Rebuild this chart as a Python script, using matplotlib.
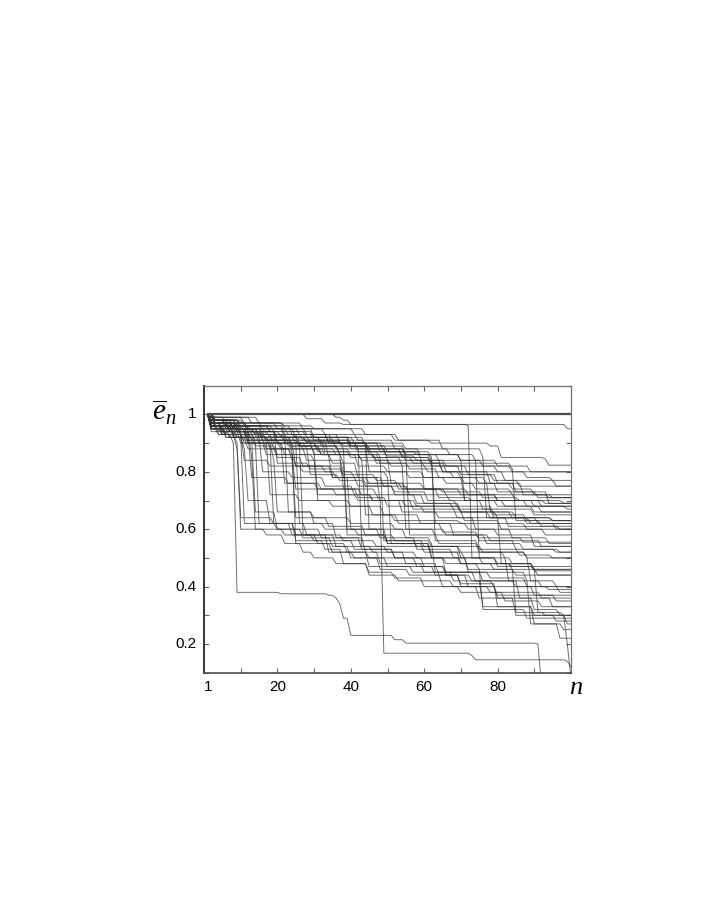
import numpy as np
import matplotlib
matplotlib.use("Agg")
import matplotlib.pyplot as plt

# n = 1..100, each run starts at 1.0; (n, value) = value the run steps down to at n
n = np.arange(1, 101)

flat_runs = [
    [],
    [],
    [(36, 0.99), (38, 0.98), (40, 0.965), (99, 0.95)],
    [(28, 0.985), (33, 0.97), (38, 0.965), (72, 0.96), (73, 0.50), (76, 0.48), (84, 0.47)],
]

upper_runs = [
    [(3, 0.98), (10, 0.97), (22, 0.96), (30, 0.95), (44, 0.93), (52, 0.91), (62, 0.90), (78, 0.89), (81, 0.85), (93, 0.845), (94, 0.823)],
    [(2, 0.97), (8, 0.95), (15, 0.93), (25, 0.92), (35, 0.90), (45, 0.88), (55, 0.86), (64, 0.84), (76, 0.82), (84, 0.80)],
    [(2, 0.98), (6, 0.96), (12, 0.94), (20, 0.92), (28, 0.905), (38, 0.89), (42, 0.87), (50, 0.855), (58, 0.84), (66, 0.82), (80, 0.80), (88, 0.78), (95, 0.77)],
    [(2, 0.96), (9, 0.94), (16, 0.92), (26, 0.90), (31, 0.88), (40, 0.86), (47, 0.84), (60, 0.82), (70, 0.79), (79, 0.77), (86, 0.75)],
    [(2, 0.97), (7, 0.95), (13, 0.93), (19, 0.90), (27, 0.88), (36, 0.86), (43, 0.84), (51, 0.82), (61, 0.80), (68, 0.78), (75, 0.76), (84, 0.74), (90, 0.72)],
    [(3, 0.98), (10, 0.95), (14, 0.93), (22, 0.91), (33, 0.87), (40, 0.85), (57, 0.83), (66, 0.80), (78, 0.76), (85, 0.73), (91, 0.71)],
    [(2, 0.95), (6, 0.93), (17, 0.91), (26, 0.89), (37, 0.86), (47, 0.83), (56, 0.81), (64, 0.78), (71, 0.76), (80, 0.73), (94, 0.69)],
    [(2, 0.99), (13, 0.97), (22, 0.95), (33, 0.93), (42, 0.91), (52, 0.88), (59, 0.86), (70, 0.84), (80, 0.82), (89, 0.80)],
    [(2, 0.95), (5, 0.93), (11, 0.90), (21, 0.88), (32, 0.86), (48, 0.83), (65, 0.80), (82, 0.77), (96, 0.75)],
    [(2, 0.96), (9, 0.94), (18, 0.92), (29, 0.90), (42, 0.88), (54, 0.85), (62, 0.82), (72, 0.79), (80, 0.76), (87, 0.72), (95, 0.71)],
]

step_runs = [
    [(2, 0.97), (5, 0.95), (10, 0.93), (11, 0.84), (18, 0.82), (27, 0.80), (36, 0.78), (45, 0.76), (55, 0.74), (66, 0.72), (80, 0.70), (92, 0.68)],
    [(2, 0.96), (7, 0.94), (15, 0.92), (16, 0.80), (24, 0.78), (33, 0.75), (41, 0.72), (46, 0.70), (57, 0.67), (69, 0.64), (83, 0.61), (97, 0.60)],
    [(3, 0.98), (9, 0.96), (19, 0.94), (20, 0.83), (29, 0.81), (38, 0.79), (47, 0.77), (53, 0.74), (64, 0.71), (73, 0.70), (88, 0.68)],
    [(2, 0.95), (4, 0.93), (12, 0.91), (21, 0.89), (22, 0.76), (32, 0.74), (42, 0.71), (50, 0.68), (60, 0.66), (71, 0.63), (81, 0.60), (93, 0.58)],
    [(2, 0.97), (8, 0.95), (14, 0.93), (23, 0.90), (28, 0.88), (29, 0.79), (37, 0.77), (44, 0.75), (52, 0.73), (61, 0.70), (69, 0.68), (79, 0.65), (88, 0.63)],
    [(2, 0.98), (6, 0.96), (13, 0.94), (17, 0.90), (18, 0.72), (26, 0.70), (35, 0.68), (46, 0.65), (53, 0.62), (65, 0.59), (75, 0.56), (85, 0.53), (96, 0.52)],
    [(2, 0.96), (10, 0.94), (20, 0.92), (32, 0.90), (34, 0.85), (35, 0.78), (44, 0.76), (54, 0.74), (65, 0.73), (76, 0.71), (86, 0.70), (98, 0.69)],
    [(2, 0.97), (5, 0.94), (9, 0.92), (24, 0.90), (25, 0.82), (33, 0.80), (41, 0.78), (49, 0.75), (56, 0.72), (67, 0.70), (76, 0.67), (90, 0.65)],
    [(3, 0.96), (8, 0.94), (16, 0.91), (26, 0.89), (37, 0.86), (38, 0.74), (47, 0.72), (58, 0.69), (68, 0.67), (79, 0.64), (91, 0.62)],
    [(2, 0.98), (11, 0.96), (22, 0.93), (30, 0.91), (40, 0.88), (50, 0.84), (51, 0.76), (60, 0.74), (70, 0.72), (80, 0.70), (90, 0.68), (99, 0.67)],
    [(2, 0.94), (7, 0.92), (14, 0.89), (20, 0.86), (30, 0.84), (31, 0.70), (40, 0.68), (49, 0.65), (59, 0.62), (68, 0.58), (77, 0.55), (87, 0.53), (97, 0.52)],
    [(2, 0.97), (9, 0.95), (12, 0.93), (13, 0.78), (23, 0.76), (31, 0.74), (43, 0.72), (48, 0.70), (58, 0.68), (70, 0.66), (78, 0.64), (89, 0.62)],
    [(2, 0.99), (6, 0.97), (16, 0.95), (28, 0.93), (35, 0.91), (44, 0.89), (45, 0.80), (56, 0.78), (66, 0.76), (74, 0.74), (84, 0.72), (94, 0.71)],
    [(2, 0.95), (6, 0.93), (11, 0.91), (17, 0.88), (24, 0.86), (25, 0.74), (36, 0.72), (46, 0.70), (54, 0.66), (64, 0.64), (74, 0.60), (84, 0.57), (94, 0.55)],
]

middle_runs = [
    [(2, 0.97), (9, 0.96), (18, 0.94), (30, 0.92), (41, 0.90), (49, 0.87), (58, 0.86), (70, 0.84), (71, 0.70), (80, 0.68), (92, 0.66)],
    [(2, 0.97), (5, 0.95), (12, 0.92), (24, 0.89), (32, 0.86), (42, 0.82), (50, 0.80), (60, 0.78), (77, 0.76), (78, 0.66), (85, 0.64), (95, 0.63)],
    [(3, 0.99), (11, 0.97), (20, 0.95), (26, 0.93), (34, 0.90), (45, 0.88), (55, 0.85), (62, 0.83), (84, 0.81), (85, 0.63), (92, 0.61)],
    [(2, 0.96), (8, 0.93), (16, 0.91), (24, 0.88), (33, 0.86), (43, 0.84), (44, 0.65), (52, 0.63), (70, 0.62), (88, 0.60)],
    [(2, 0.97), (7, 0.94), (12, 0.90), (19, 0.84), (20, 0.66), (30, 0.64), (40, 0.62), (52, 0.60), (63, 0.58), (75, 0.57), (87, 0.555)],
    [(2, 0.98), (10, 0.96), (24, 0.93), (37, 0.90), (48, 0.87), (62, 0.85), (63, 0.62), (72, 0.60), (80, 0.58), (90, 0.54)],
    [(3, 0.97), (9, 0.95), (15, 0.92), (25, 0.90), (26, 0.62), (33, 0.60), (42, 0.58), (50, 0.56), (62, 0.54), (76, 0.52), (88, 0.50)],
    [(2, 0.95), (10, 0.93), (22, 0.90), (38, 0.88), (39, 0.60), (48, 0.57), (58, 0.53), (68, 0.50), (80, 0.47), (90, 0.46)],
    [(2, 0.97), (6, 0.95), (14, 0.93), (20, 0.90), (31, 0.87), (48, 0.85), (49, 0.56), (58, 0.54), (70, 0.50), (80, 0.48), (90, 0.455)],
    [(3, 0.96), (11, 0.94), (21, 0.92), (32, 0.89), (45, 0.87), (54, 0.86), (62, 0.84), (63, 0.56), (75, 0.53), (86, 0.51), (95, 0.50)],
    [(2, 0.99), (15, 0.97), (27, 0.95), (41, 0.93), (53, 0.91), (65, 0.88), (76, 0.85), (77, 0.64), (88, 0.62), (96, 0.60)],
    [(2, 0.97), (4, 0.94), (10, 0.90), (17, 0.86), (25, 0.82), (35, 0.78), (42, 0.75), (52, 0.72), (60, 0.69), (70, 0.66), (80, 0.64), (81, 0.48), (90, 0.46)],
    [(2, 0.98), (7, 0.96), (16, 0.93), (26, 0.91), (36, 0.88), (46, 0.85), (54, 0.82), (55, 0.60), (66, 0.58), (78, 0.56), (92, 0.54)],
    [(3, 0.97), (12, 0.95), (23, 0.93), (34, 0.90), (45, 0.86), (55, 0.84), (65, 0.80), (70, 0.78), (71, 0.70), (82, 0.68), (90, 0.66)],
    [(2, 0.97), (8, 0.95), (17, 0.93), (27, 0.91), (40, 0.89), (50, 0.87), (59, 0.85), (60, 0.74), (72, 0.72), (85, 0.70), (93, 0.69)],
    [(2, 0.96), (6, 0.93), (14, 0.91), (23, 0.89), (30, 0.87), (31, 0.72), (42, 0.70), (55, 0.68), (70, 0.66), (84, 0.64), (95, 0.63)],
]

lower_runs = [
    [(2, 0.96), (9, 0.94), (13, 0.85), (14, 0.60), (22, 0.58), (30, 0.56), (41, 0.53), (52, 0.50), (66, 0.48), (79, 0.46), (91, 0.44)],
    [(3, 0.97), (12, 0.95), (25, 0.92), (40, 0.89), (55, 0.86), (56, 0.58), (64, 0.55), (75, 0.52), (82, 0.50), (83, 0.42), (92, 0.40)],
    [(2, 0.96), (8, 0.93), (15, 0.90), (24, 0.87), (25, 0.55), (35, 0.52), (45, 0.50), (58, 0.47), (66, 0.45), (78, 0.43), (88, 0.40), (94, 0.39)],
    [(2, 0.98), (6, 0.96), (10, 0.93), (11, 0.62), (20, 0.60), (32, 0.57), (44, 0.52), (45, 0.47), (57, 0.45), (68, 0.42), (79, 0.40), (90, 0.37)],
    [(2, 0.97), (12, 0.95), (30, 0.92), (44, 0.89), (45, 0.60), (55, 0.57), (62, 0.55), (63, 0.45), (76, 0.42), (86, 0.36), (95, 0.33)],
    [(3, 0.95), (9, 0.92), (19, 0.88), (28, 0.84), (38, 0.80), (50, 0.78), (51, 0.55), (60, 0.52), (70, 0.48), (84, 0.46), (85, 0.31), (93, 0.30)],
    [(2, 0.96), (8, 0.93), (14, 0.90), (15, 0.62), (24, 0.58), (31, 0.55), (39, 0.52), (48, 0.48), (60, 0.45), (74, 0.42), (76, 0.33), (90, 0.30), (96, 0.28)],
    [(2, 0.97), (5, 0.93), (9, 0.88), (10, 0.64), (19, 0.62), (25, 0.58), (34, 0.52), (41, 0.50), (50, 0.47), (63, 0.44), (70, 0.41), (80, 0.33), (90, 0.27), (98, 0.25)],
    [(2, 0.95), (7, 0.92), (12, 0.88), (20, 0.85), (27, 0.82), (38, 0.78), (40, 0.60), (50, 0.55), (62, 0.50), (72, 0.45), (88, 0.42), (89, 0.27), (97, 0.22)],
    [(2, 0.96), (4, 0.93), (8, 0.90), (9, 0.38), (21, 0.375), (34, 0.37), (36, 0.36), (37, 0.34), (38, 0.29), (40, 0.23), (52, 0.215), (55, 0.203), (91, 0.20), (92, 0.05)],
    [(2, 0.97), (5, 0.94), (12, 0.90), (22, 0.86), (35, 0.83), (42, 0.78), (48, 0.70), (49, 0.168), (73, 0.16), (74, 0.145), (99, 0.14), (100, 0.12)],
    [(2, 0.97), (10, 0.94), (20, 0.90), (30, 0.86), (38, 0.83), (39, 0.58), (50, 0.55), (62, 0.50), (66, 0.44), (72, 0.40), (80, 0.36), (90, 0.32), (97, 0.30), (99, 0.20), (100, 0.08)],
    [(2, 0.95), (6, 0.92), (18, 0.90), (19, 0.62), (28, 0.58), (36, 0.54), (46, 0.52), (55, 0.48), (64, 0.44), (70, 0.40), (78, 0.38), (92, 0.36)],
    [(2, 0.98), (8, 0.95), (16, 0.92), (28, 0.90), (42, 0.88), (43, 0.54), (50, 0.52), (58, 0.50), (70, 0.48), (75, 0.46), (76, 0.32), (88, 0.29)],
    [(2, 0.96), (8, 0.92), (18, 0.88), (24, 0.84), (25, 0.64), (34, 0.61), (44, 0.58), (52, 0.56), (60, 0.54), (70, 0.52), (88, 0.50), (89, 0.42), (96, 0.40)],
    [(2, 0.97), (7, 0.94), (12, 0.92), (26, 0.90), (27, 0.58), (38, 0.56), (47, 0.54), (62, 0.52), (71, 0.50), (72, 0.46), (85, 0.44)],
    [(2, 0.98), (9, 0.96), (18, 0.94), (28, 0.92), (40, 0.90), (55, 0.88), (67, 0.86), (74, 0.84), (75, 0.50), (84, 0.48), (90, 0.46), (91, 0.31), (98, 0.30)],
    [(2, 0.96), (5, 0.93), (9, 0.90), (10, 0.60), (17, 0.58), (22, 0.55), (27, 0.52), (30, 0.50), (36, 0.48), (45, 0.45), (52, 0.43), (60, 0.40), (70, 0.38), (82, 0.35), (92, 0.33)],
    [(2, 0.97), (7, 0.94), (13, 0.91), (14, 0.66), (20, 0.60), (27, 0.57), (35, 0.54), (40, 0.50), (48, 0.46), (56, 0.44), (65, 0.40), (75, 0.36), (85, 0.30), (99, 0.27)],
    [(2, 0.95), (6, 0.92), (11, 0.88), (12, 0.70), (18, 0.62), (25, 0.56), (33, 0.53), (38, 0.48), (45, 0.44), (53, 0.42), (68, 0.40), (80, 0.37), (96, 0.35)],
    [(2, 0.98), (8, 0.95), (22, 0.92), (23, 0.66), (30, 0.62), (36, 0.57), (43, 0.53), (52, 0.50), (60, 0.47), (66, 0.44), (73, 0.42), (85, 0.40), (97, 0.38)],
]

x_labels = ["1", "20", "40", "60", "80"]
x_label_pos = [1, 20, 40, 60, 80]
y_labels = ["0.2", "0.4", "0.6", "0.8", "1"]
y_label_pos = [0.2, 0.4, 0.6, 0.8, 1.0]


def run_values(knots):
    vals = np.ones(len(n))
    for k, v in knots:
        vals[n >= k] = v
    return vals


fig = plt.figure(figsize=(7.06, 9.13), dpi=100)
ax = fig.add_axes([204 / 706, 1 - 672.7 / 913, 367 / 706, 287 / 913])

for group in (flat_runs, upper_runs, step_runs, middle_runs, lower_runs):
    for knots in group:
        ax.plot(n, run_values(knots), color="0.2", lw=0.7, alpha=0.7)
ax.plot(n, run_values([]), color="0.3", lw=1.6)

ax.set_xlim(0, 100)
ax.set_ylim(0.1, 1.1)

ax.set_xticks(np.arange(10, 100, 10))
ax.set_xticklabels([])
ax.set_yticks(np.arange(0.1, 1.11, 0.1))
ax.set_yticklabels([])
ax.tick_params(direction="in", length=3.5, width=0.8, color="0.4",
               top=True, right=True)

for p, s in zip(x_label_pos, x_labels):
    ax.text(p, 0.073, s, ha="center", va="top", fontsize=11,
            family="Liberation Sans", color="black")
for p, s in zip(y_label_pos, y_labels):
    ax.text(-2.0, p, s, ha="right", va="center", fontsize=11,
            family="Liberation Sans", color="black")

for side in ("top", "right"):
    ax.spines[side].set_color("0.45")
    ax.spines[side].set_linewidth(0.9)
ax.spines["left"].set_color("0.2")
ax.spines["left"].set_linewidth(1.4)
ax.spines["bottom"].set_color("0.3")
ax.spines["bottom"].set_linewidth(1.2)

plt.rcParams["mathtext.fontset"] = "custom"
plt.rcParams["mathtext.it"] = "Liberation Serif:italic"
plt.rcParams["mathtext.rm"] = "Liberation Serif"
fig.text(164 / 706, 1 - 412 / 913, r"$\overline{e}_n$", fontsize=21,
         ha="center", va="center", color="black")
fig.text(576 / 706, 1 - 688 / 913, "n", fontsize=19, style="italic",
         family="Liberation Serif", ha="center", va="center", color="black")

fig.savefig("out.png", dpi=100)
